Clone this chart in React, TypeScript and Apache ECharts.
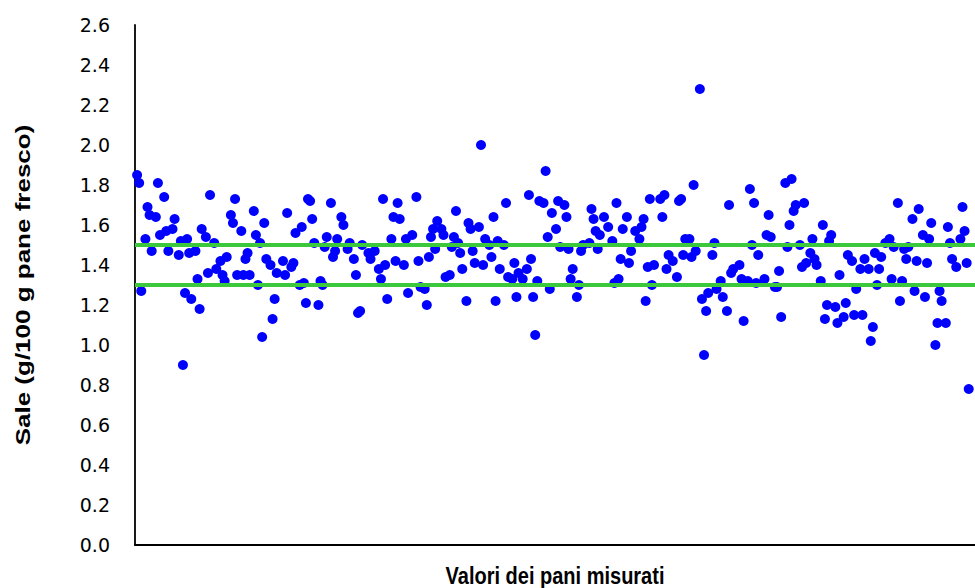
import React, { useEffect, useRef } from "react";
import * as echarts from "echarts";

// Measured salt content per bread sample: [sample number, g/100 g]
const measurements: [number, number][] = [
  [1,1.85],[2,1.81],[3,1.27],[5,1.53],[6,1.69],[7,1.65],[8,1.47],[10,1.64],[11,1.81],[12,1.55],
  [14,1.74],[15,1.57],[16,1.47],[18,1.58],[19,1.63],[21,1.45],[22,1.52],[23,0.90],[24,1.26],[25,1.53],
  [26,1.46],[27,1.23],[29,1.47],[30,1.33],[31,1.18],[32,1.58],[34,1.54],[35,1.36],[36,1.75],[38,1.51],
  [39,1.38],[41,1.42],[42,1.35],[43,1.32],[44,1.44],[46,1.65],[47,1.61],[48,1.73],[49,1.35],
  [51,1.57],[52,1.35],[53,1.43],[54,1.46],[55,1.35],[57,1.67],[58,1.55],[59,1.30],[60,1.51],[61,1.04],
  [62,1.61],[63,1.43],[65,1.40],[66,1.13],[67,1.23],[68,1.36],[71,1.42],[72,1.35],[73,1.66],[75,1.39],
  [76,1.41],[77,1.56],[79,1.30],[80,1.59],[81,1.31],[82,1.21],[83,1.73],[84,1.72],[85,1.63],[86,1.51],
  [88,1.20],[89,1.32],[90,1.30],[91,1.49],[92,1.54],[94,1.71],[95,1.44],[96,1.47],[97,1.53],[99,1.64],[100,1.60],
  [102,1.48],[103,1.51],[105,1.43],[106,1.35],[107,1.16],[108,1.17],[109,1.50],[112,1.46],[113,1.43],[115,1.47],
  [117,1.38],[118,1.33],[119,1.73],[120,1.40],[121,1.23],[123,1.53],[124,1.64],[125,1.42],[126,1.71],[127,1.63],
  [129,1.40],[130,1.53],[131,1.26],[133,1.55],[135,1.74],[136,1.42],[137,1.29],[139,1.28],[140,1.20],[141,1.44],
  [142,1.54],[143,1.58],[144,1.48],[145,1.62],[147,1.58],[148,1.55],[149,1.34],
  [151,1.35],[152,1.49],[153,1.54],[154,1.67],[155,1.51],[156,1.46],[157,1.38],[159,1.22],[160,1.61],[161,1.58],
  [162,1.47],[163,1.41],[165,1.59],[166,2.00],[167,1.40],[168,1.53],[170,1.50],[171,1.44],[172,1.64],[173,1.22],
  [174,1.52],[175,1.38],[177,1.50],[178,1.71],[179,1.34],[181,1.33],[182,1.41],[183,1.24],[184,1.36],[186,1.33],
  [188,1.38],[189,1.75],[190,1.43],[191,1.24],[192,1.05],[193,1.32],[194,1.72],[196,1.71],[197,1.87],[198,1.54],
  [199,1.28],[200,1.66],
  [202,1.58],[203,1.72],[204,1.49],[206,1.70],[207,1.64],[208,1.48],[209,1.33],[210,1.38],[212,1.24],[213,1.30],
  [214,1.47],[215,1.50],[218,1.51],[219,1.68],[220,1.63],[221,1.57],[222,1.48],[223,1.55],[225,1.64],[227,1.59],
  [229,1.52],[230,1.31],[231,1.71],[232,1.33],[233,1.43],[234,1.58],[236,1.64],[237,1.41],[238,1.47],[240,1.57],
  [242,1.53],[243,1.59],[244,1.63],[245,1.22],[246,1.39],[247,1.73],[248,1.30],[249,1.40],
  [252,1.73],[253,1.64],[254,1.75],[255,1.38],[256,1.45],[258,1.42],[260,1.34],[261,1.72],[262,1.73],[263,1.45],
  [264,1.53],[266,1.53],[267,1.44],[268,1.80],[269,1.47],[271,2.28],[272,1.23],[273,0.95],[274,1.17],[275,1.26],
  [277,1.45],[278,1.51],[279,1.28],[281,1.32],[282,1.24],[284,1.17],[285,1.70],[286,1.36],[287,1.38],[290,1.40],
  [291,1.33],[292,1.12],[294,1.32],[295,1.78],[296,1.50],[297,1.71],[298,1.31],[299,1.45],
  [302,1.33],[303,1.55],[304,1.65],[305,1.54],[307,1.29],[308,1.29],[309,1.37],[310,1.14],[312,1.81],[313,1.49],
  [314,1.60],[315,1.83],[316,1.67],[317,1.70],[319,1.50],[320,1.39],[321,1.71],[322,1.41],[324,1.46],[325,1.53],
  [326,1.43],[327,1.40],[329,1.32],[330,1.60],[331,1.13],[332,1.20],[333,1.52],[334,1.55],[336,1.19],[337,1.11],
  [338,1.35],[340,1.14],[341,1.21],[342,1.45],[344,1.42],[345,1.15],[346,1.28],[348,1.38],[349,1.15],[350,1.43],
  [352,1.38],[353,1.02],[354,1.09],[355,1.46],[356,1.30],[357,1.38],[358,1.44],[360,1.51],[362,1.53],[363,1.33],
  [364,1.49],[366,1.71],[367,1.22],[368,1.32],[369,1.48],[370,1.43],[371,1.49],[373,1.63],[374,1.27],[375,1.42],
  [376,1.68],[378,1.55],[379,1.24],[380,1.41],[381,1.53],[382,1.61],[384,1.00],[385,1.11],[386,1.27],[387,1.22],
  [389,1.11],[390,1.59],[391,1.51],[392,1.43],[394,1.39],[396,1.53],[397,1.69],[398,1.57],[399,1.41],[400,0.78],
];

// Reference limits (g/100 g)
const lowerLimit = 1.3;
const upperLimit = 1.5;

// Axis ranges
const yMin = 0;
const yMax = 2.6;
const yStep = 0.2;
const xMin = 0;
const xMax = 403;

const yAxisTitle = "Sale (g/100 g pane fresco)";
const xAxisTitle = "Valori dei pani misurati";

const TITLE_FONT = "'Liberation Sans', Arial, sans-serif";
const TICK_FONT = "'DejaVu Sans', sans-serif";

export default function App() {
  const ref = useRef<HTMLDivElement>(null);

  useEffect(() => {
    if (!ref.current) return;
    const chart = echarts.init(ref.current, undefined, { renderer: "svg" });
    const green = "#3cc83c";
    chart.setOption({
      animation: false,
      backgroundColor: "#ffffff",
      grid: { left: 135, right: -8, top: 25, bottom: 43, containLabel: false },
      xAxis: {
        type: "value",
        min: xMin,
        max: xMax,
        axisLine: { show: true, onZero: false, lineStyle: { color: "#000", width: 2 } },
        axisTick: { show: false },
        axisLabel: { show: false },
        splitLine: { show: false },
      },
      yAxis: {
        type: "value",
        min: yMin,
        max: yMax,
        interval: yStep,
        axisLine: { show: true, lineStyle: { color: "#000", width: 1.8 } },
        axisTick: { show: false },
        axisLabel: {
          fontFamily: TICK_FONT,
          fontSize: 19,
          color: "#000",
          margin: 25,
          formatter: (v: number) => v.toFixed(1),
        },
        splitLine: { show: false },
      },
      graphic: [
        {
          type: "text",
          x: 23,
          y: 285,
          rotation: Math.PI / 2,
          scaleX: 1.3,
          scaleY: 1,
          style: {
            text: yAxisTitle,
            font: `bold 20px ${TITLE_FONT}`,
            fill: "#000",
            align: "center",
            verticalAlign: "middle",
          },
        },
        {
          type: "text",
          x: 555,
          y: 576,
          scaleX: 1,
          scaleY: 1.15,
          style: {
            text: xAxisTitle,
            font: `bold 20px ${TITLE_FONT}`,
            fill: "#000",
            align: "center",
            verticalAlign: "middle",
          },
        },
      ],
      series: [
        {
          type: "scatter",
          data: measurements,
          symbol: "circle",
          symbolSize: 10,
          itemStyle: { color: "#0000ff", opacity: 1 },
          z: 2,
        },
        {
          type: "line",
          data: [[xMin, lowerLimit], [xMax, lowerLimit]],
          symbol: "none",
          lineStyle: { color: green, width: 4 },
          z: 3,
        },
        {
          type: "line",
          data: [[xMin, upperLimit], [xMax, upperLimit]],
          symbol: "none",
          lineStyle: { color: green, width: 4 },
          z: 3,
        },
      ],
    });
    return () => chart.dispose();
  }, []);

  return (
    <div
      ref={ref}
      style={{ position: "fixed", left: 0, top: 0, width: 975, height: 588, background: "#fff" }}
    />
  );
}
